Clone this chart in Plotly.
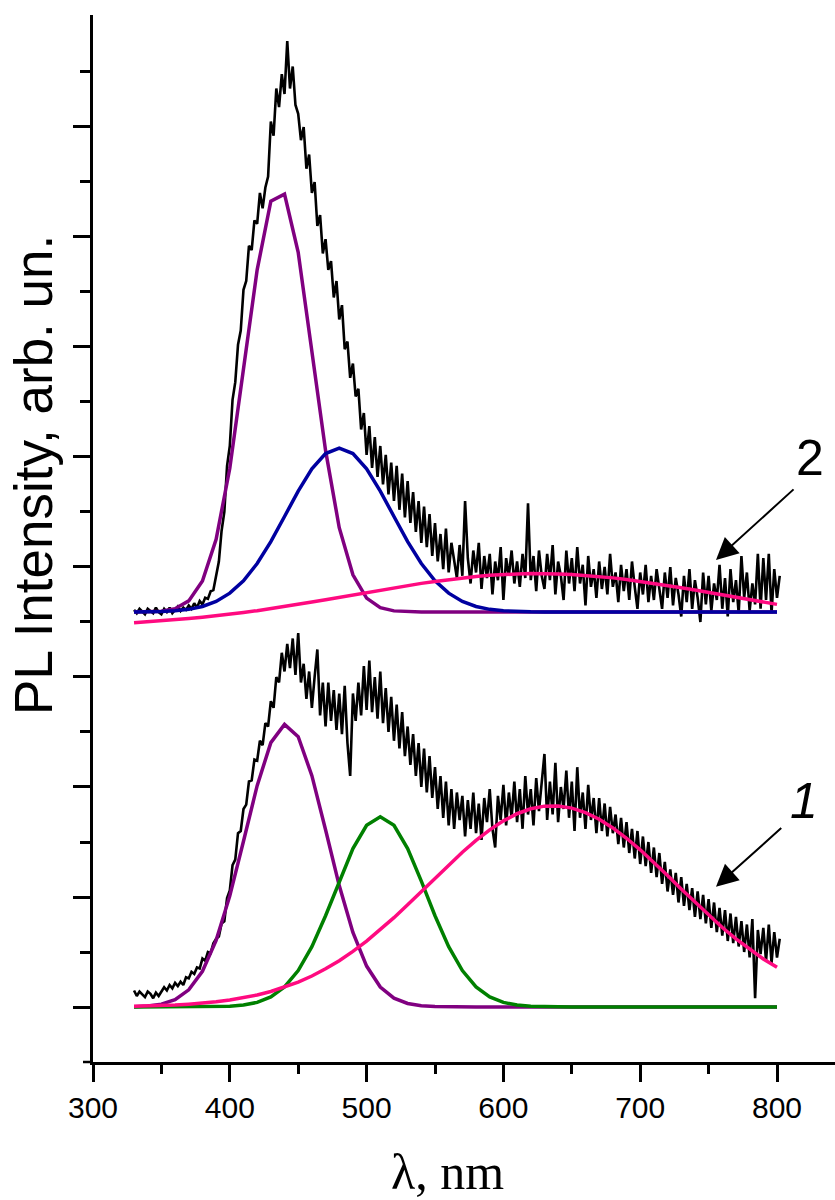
import plotly.graph_objects as go

# ---------------- data ----------------
# wavelength grid of the measured spectra (nm)
wl_meas = list(range(330, 803, 2))
# wavelength grid of the fitted Gaussian components (nm)
wl_fit = list(range(330, 801, 10))

# spectrum 2 (upper, offset) - measured PL
pl2 = [3.61,3.58,3.62,3.59,3.57,3.62,3.60,3.58,3.63,3.59,
       3.57,3.62,3.59,3.63,3.58,3.61,3.64,3.60,3.63,3.61,
       3.65,3.62,3.67,3.63,3.69,3.66,3.72,3.71,3.78,3.79,
       3.92,4.05,4.33,4.50,4.92,5.10,5.52,5.68,6.02,6.15,
       6.52,6.60,6.92,6.88,7.15,7.12,7.40,7.26,7.45,7.55,
       8.05,7.92,8.35,8.18,8.48,8.30,8.78,8.35,8.55,8.20,
       8.12,7.88,8.00,7.62,7.75,7.40,7.50,7.10,7.20,6.85,
       6.98,6.70,6.78,6.45,6.60,6.25,6.38,5.98,6.05,5.72,
       5.85,5.55,5.62,5.25,5.40,5.02,5.28,4.90,5.18,4.82,
       5.10,4.75,5.02,4.66,4.95,4.60,4.92,4.52,4.85,4.45,
       4.78,4.40,4.68,4.32,4.60,4.22,4.55,4.18,4.48,4.10,
       4.40,4.05,4.30,3.98,4.35,3.95,4.22,4.05,3.90,4.20,
       3.92,4.60,4.08,3.85,4.15,3.95,4.22,3.80,4.10,3.90,
       4.12,3.75,4.05,3.88,4.18,3.70,4.08,3.92,4.15,3.85,
       4.05,3.82,4.12,3.90,4.58,3.88,4.10,3.78,4.15,3.92,
       3.80,4.12,3.88,4.20,3.75,4.05,3.92,3.70,4.15,3.85,
       4.08,3.78,4.18,3.85,4.02,3.65,4.10,3.82,3.98,3.72,
       4.05,3.80,4.00,3.75,4.12,3.82,3.95,3.68,4.02,3.78,
       3.98,3.70,4.05,3.82,3.62,3.95,3.75,4.02,3.68,3.92,
       3.70,3.98,3.78,3.62,3.95,3.72,4.00,3.65,3.90,3.75,
       3.55,3.92,3.68,3.98,3.62,3.88,3.72,3.50,3.95,3.66,
       3.92,3.60,3.85,3.70,4.02,3.62,3.90,3.55,3.98,3.68,
       3.88,3.58,4.10,3.72,3.95,3.60,3.85,3.66,4.12,3.62,
       4.08,3.70,4.12,3.58,3.98,3.72,3.92]

# spectrum 1 (lower) - measured PL
pl1 = [0.15,0.10,0.14,0.11,0.09,0.14,0.12,0.08,0.13,0.10,
       0.14,0.18,0.15,0.20,0.17,0.22,0.19,0.23,0.20,0.27,
       0.26,0.32,0.30,0.36,0.35,0.44,0.42,0.50,0.49,0.58,
       0.62,0.64,0.76,0.78,0.99,1.06,1.29,1.34,1.58,1.60,
       1.80,1.84,2.05,2.06,2.25,2.24,2.42,2.38,2.58,2.55,
       2.78,2.72,3.00,2.95,3.22,3.05,3.30,3.08,3.35,3.02,
       3.40,2.95,3.12,2.80,3.05,2.72,3.00,3.25,2.65,2.95,
       2.55,2.95,2.60,2.88,2.52,2.85,2.48,2.92,2.40,2.10,
       2.85,2.60,2.95,2.65,3.10,2.70,3.15,2.68,3.00,2.62,
       3.05,2.58,2.90,2.50,2.82,2.42,2.75,2.35,2.68,2.28,
       2.55,2.20,2.48,2.10,2.40,2.00,2.35,1.95,2.28,1.90,
       2.18,1.80,2.10,1.72,2.05,1.65,1.98,1.62,1.95,1.70,
       1.92,1.55,1.88,1.62,1.95,1.58,1.85,1.52,1.90,1.68,
       1.98,1.62,1.45,1.92,1.70,2.02,1.65,1.95,1.72,2.05,
       1.68,1.98,1.62,2.10,1.75,1.98,1.65,2.08,1.78,2.02,
       2.30,1.70,2.05,1.75,2.22,1.68,2.00,1.80,2.15,1.72,
       2.05,1.60,2.18,1.72,1.95,1.62,2.02,1.70,1.90,1.58,
       1.90,1.60,1.85,1.55,1.82,1.58,1.75,1.48,1.72,1.45,
       1.68,1.40,1.62,1.35,1.60,1.30,1.55,1.28,1.50,1.22,
       1.45,1.18,1.40,1.12,1.32,1.05,1.25,1.02,1.22,0.95,
       1.18,0.92,1.12,0.88,1.08,0.82,1.05,0.80,1.02,0.76,
       0.98,0.72,0.95,0.68,0.90,0.65,0.88,0.60,0.85,0.58,
       0.82,0.55,0.78,0.50,0.75,0.45,0.80,0.08,0.70,0.48,
       0.72,0.42,0.75,0.40,0.68,0.45,0.62]

# fitted components, spectrum 2
purple2 = [3.590,3.592,3.598,3.621,3.692,3.873,4.251,4.898,5.782,6.701,
           7.326,7.389,6.860,5.973,5.060,4.357,3.929,3.717,3.630,3.601,
           3.592] + [3.590] * 27
blue2 = [3.591,3.592,3.595,3.602,3.615,3.641,3.687,3.762,3.875,4.032,
         4.231,4.459,4.690,4.892,5.031,5.080,5.031,4.892,4.690,4.459,
         4.231,4.032,3.875,3.762,3.687,3.641,3.615,3.602,3.595,3.592,
         3.591] + [3.590] * 17
pink2 = [3.494,3.502,3.511,3.520,3.531,3.543,3.556,3.571,3.587,3.603,
         3.621,3.640,3.660,3.681,3.702,3.724,3.746,3.768,3.790,3.811,
         3.832,3.851,3.869,3.886,3.901,3.913,3.924,3.932,3.937,3.940,
         3.940,3.937,3.932,3.924,3.913,3.901,3.886,3.869,3.851,3.832,
         3.811,3.790,3.768,3.746,3.724,3.702,3.681,3.660]

# fitted components, spectrum 1
purple1 = [0.003,0.009,0.026,0.067,0.156,0.325,0.606,1.010,1.507,2.012,
           2.403,2.569,2.457,2.103,1.611,1.104,0.677,0.372,0.182,0.080,
           0.032,0.011,0.004,0.001] + [0.0] * 24
green1 = [0.0,0.0,0.0,0.0,0.0002,0.0007,0.0023,0.0067,0.0175,0.042,
          0.092,0.182,0.331,0.549,0.830,1.144,1.440,1.652,1.730,1.652,
          1.440,1.144,0.830,0.549,0.331,0.182,0.092,0.042,0.0175,0.0067,
          0.0023,0.0007] + [0.0] * 16
pink1 = [0.006,0.009,0.013,0.018,0.026,0.035,0.047,0.063,0.084,0.109,
         0.141,0.180,0.227,0.282,0.347,0.421,0.505,0.599,0.702,0.812,
         0.929,1.049,1.171,1.291,1.407,1.514,1.610,1.692,1.757,1.802,
         1.826,1.828,1.808,1.767,1.707,1.628,1.534,1.429,1.315,1.195,
         1.073,0.953,0.835,0.723,0.619,0.523,0.437,0.361]

x_ticks = [300, 400, 500, 600, 700, 800]
x_minor = [350, 450, 550, 650, 750]
y_ticks = [0, 1, 2, 3, 4, 5, 6, 7, 8]
y_minor = [0.5, 1.5, 2.5, 3.5, 4.5, 5.5, 6.5, 7.5, 8.5]

# ---------------- styles ----------------
BLACK = "#000000"
PURPLE = "#800080"
BLUE = "#0000a0"
GREEN = "#008000"
PINK = "#ff0a80"

fig = go.Figure()

def add(x, y, color, width):
    fig.add_trace(go.Scatter(x=x, y=y, mode="lines",
                             line=dict(color=color, width=width),
                             hoverinfo="skip", showlegend=False))

add(wl_meas, pl2, BLACK, 2.6)
add(wl_fit, purple2, PURPLE, 3.5)
add(wl_fit, blue2, BLUE, 3.5)
add(wl_fit, pink2, PINK, 3.5)

add(wl_meas, pl1, BLACK, 2.6)
add(wl_fit, purple1, PURPLE, 3.5)
add(wl_fit, green1, GREEN, 3.5)
add(wl_fit, pink1, PINK, 3.5)

fig.update_layout(
    width=835, height=1200,
    margin=dict(l=93, r=0, t=15, b=138),
    plot_bgcolor="white", paper_bgcolor="white",
    showlegend=False,
    font=dict(family="Liberation Sans, Arial, sans-serif", color="black"),
)

fig.update_xaxes(
    range=[300, 842.4], showgrid=False, zeroline=False,
    showline=True, linecolor="black", linewidth=2.5,
    ticks="outside", ticklen=17, tickwidth=2.5, tickcolor="black",
    tickmode="array", tickvals=x_ticks, ticktext=[str(v) for v in x_ticks],
    tickfont=dict(size=30, family="Liberation Sans, Arial, sans-serif"),
    minor=dict(tickmode="array", tickvals=x_minor, ticks="outside",
               ticklen=9, tickwidth=2.5, tickcolor="black", showgrid=False),
)
fig.update_yaxes(
    range=[-0.5, 9.018], showgrid=False, zeroline=False,
    showline=True, linecolor="black", linewidth=2.5,
    ticks="outside", ticklen=17, tickwidth=2.5, tickcolor="black",
    tickmode="array", tickvals=y_ticks, showticklabels=False,
    minor=dict(tickmode="array", tickvals=y_minor, ticks="outside",
               ticklen=10, tickwidth=2.5, tickcolor="black", showgrid=False),
)

# small overshoot of the x axis line to the left of the y axis
fig.add_shape(type="line", xref="paper", yref="paper",
              x0=-10 / 742, x1=0, y0=0, y1=0,
              line=dict(color="black", width=2.5))

# axis titles
fig.add_annotation(text="PL Intensity, arb. un.", xref="paper", yref="paper",
                   x=-0.0795, y=0.5607, xanchor="center", yanchor="middle",
                   textangle=-90, showarrow=False,
                   font=dict(size=53, family="Liberation Sans, Arial, sans-serif"))
fig.add_annotation(text="λ, nm", xref="paper", yref="paper",
                   x=0.4784, y=-0.105, xanchor="center", yanchor="middle",
                   showarrow=False,
                   font=dict(size=50, family="Liberation Serif, Times New Roman, serif"))

# curve labels and arrows
fig.add_annotation(text="2", x=824.1, y=4.99, showarrow=False,
                   font=dict(size=50, family="Liberation Sans, Arial, sans-serif"))
fig.add_annotation(text="<i>1</i>", x=819.7, y=1.87, showarrow=False,
                   font=dict(size=50, family="Liberation Sans, Arial, sans-serif"))
fig.add_annotation(text="", x=755.4, y=4.064, ax=813.2, ay=4.718,
                   axref="x", ayref="y", showarrow=True, arrowhead=2,
                   arrowsize=2.2, arrowwidth=2, arrowcolor="black")
fig.add_annotation(text="", x=755.4, y=1.094, ax=804.2, ay=1.639,
                   axref="x", ayref="y", showarrow=True, arrowhead=2,
                   arrowsize=2.2, arrowwidth=2, arrowcolor="black")

fig.write_html("out.html")
